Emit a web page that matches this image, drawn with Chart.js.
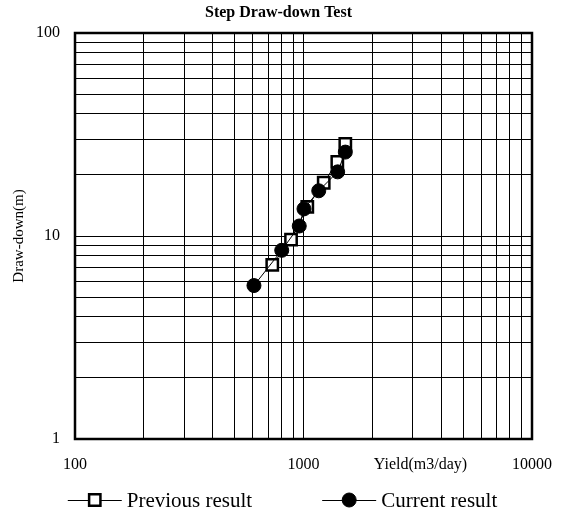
<!DOCTYPE html>
<html>
<head>
<meta charset="utf-8">
<title>Step Draw-down Test</title>
<script src="https://cdn.jsdelivr.net/npm/chart.js@4.4.1/dist/chart.umd.min.js"></script>
<style>
  html, body { margin: 0; padding: 0; background: #fff; }
  canvas { display: block; }
</style>
</head>
<body>
<canvas id="stepChart" width="565" height="517"></canvas>
<script>
// Yield (m3/day) against draw-down (m)
const previousYield = [730, 882, 1039, 1226, 1406, 1524];
const previousDrawdown = [7.2, 9.6, 13.9, 18.3, 23.2, 28.4];

const currentYield = [607, 803, 958, 1005, 1166, 1411, 1524];
const currentDrawdown = [5.7, 8.5, 11.2, 13.6, 16.7, 20.7, 25.9];

// grid lines and the labelled ticks
const xGridValues = [100, 200, 300, 400, 500, 600, 700, 800, 900,
  1000, 2000, 3000, 4000, 5000, 6000, 7000, 8000, 9000, 10000];
const yGridValues = [1, 2, 3, 4, 5, 6, 7, 8, 9,
  10, 20, 30, 40, 50, 60, 70, 80, 90, 100];
const xTickLabels = [100, 1000, 10000];
const yTickLabels = [1, 10, 100];

const serif = "'Liberation Serif', 'Times New Roman', serif";
Chart.defaults.font.family = serif;
Chart.defaults.color = '#000';

// title sits a little left of the canvas centre
const titlePlugin = {
  id: 'sheetTitle',
  afterDraw(chart) {
    const { ctx } = chart;
    ctx.save();
    ctx.font = 'bold 16px ' + serif;
    ctx.fillStyle = '#000';
    ctx.textAlign = 'center';
    ctx.textBaseline = 'middle';
    ctx.fillText('Step Draw-down Test', chart.width / 2 - 4, 13);
    ctx.restore();
  }
};

// thick black box round the plot area
const framePlugin = {
  id: 'frame',
  beforeDatasetsDraw(chart) {
    const { ctx, chartArea: a } = chart;
    ctx.save();
    ctx.lineWidth = 2.5;
    ctx.strokeStyle = '#000';
    ctx.strokeRect(a.left, a.top, a.right - a.left, a.bottom - a.top);
    ctx.restore();
  }
};

// x axis title sits in the tick label row, right of 1000
const yieldLabelPlugin = {
  id: 'yieldLabel',
  afterDraw(chart) {
    const { ctx } = chart;
    const x = chart.scales.x.getPixelForValue(3250);
    ctx.save();
    ctx.font = '16px ' + serif;
    ctx.fillStyle = '#000';
    ctx.textAlign = 'center';
    ctx.textBaseline = 'middle';
    ctx.fillText('Yield(m3/day)', x, chart.chartArea.bottom + 26);
    ctx.restore();
  }
};

// legend with a line through the marker, like the spreadsheet one
const lineLegendPlugin = {
  id: 'lineLegend',
  afterDraw(chart) {
    const { ctx } = chart;
    const lineLen = 54, textGap = 5, itemGap = 70;
    const y = chart.height - 17;
    ctx.save();
    ctx.font = '21px ' + serif;
    const items = chart.data.datasets.map(ds => ({ ds, w: ctx.measureText(ds.label).width }));
    const total = items.reduce((s, it) => s + lineLen + textGap + it.w, 0) + itemGap * (items.length - 1);
    let x = (chart.width - total) / 2;
    items.forEach(({ ds, w }) => {
      ctx.strokeStyle = '#000';
      ctx.lineWidth = 1;
      ctx.beginPath();
      ctx.moveTo(x, y + 0.5);
      ctx.lineTo(x + lineLen, y + 0.5);
      ctx.stroke();

      ctx.fillStyle = ds.pointBackgroundColor;
      ctx.strokeStyle = ds.pointBorderColor;
      ctx.lineWidth = ds.pointBorderWidth;
      Chart.helpers.drawPoint(ctx, {
        pointStyle: ds.pointStyle,
        radius: ds.pointRadius,
        rotation: 0,
        borderWidth: ds.pointBorderWidth
      }, x + lineLen / 2, y);

      ctx.fillStyle = '#000';
      ctx.textAlign = 'left';
      ctx.textBaseline = 'middle';
      ctx.fillText(ds.label, x + lineLen + textGap, y + 1.5);
      x += lineLen + textGap + w + itemGap;
    });
    ctx.restore();
  }
};

new Chart(document.getElementById('stepChart'), {
  type: 'scatter',
  data: {
    datasets: [
      {
        label: 'Previous result',
        data: previousYield.map((x, i) => ({ x, y: previousDrawdown[i] })),
        showLine: true,
        borderColor: '#000',
        borderWidth: 1,
        pointStyle: 'rect',
        pointRadius: 8,
        pointBorderWidth: 2.5,
        pointBackgroundColor: '#fff',
        pointBorderColor: '#000',
        order: 2
      },
      {
        label: 'Current result',
        data: currentYield.map((x, i) => ({ x, y: currentDrawdown[i] })),
        showLine: true,
        borderColor: '#000',
        borderWidth: 1,
        pointStyle: 'circle',
        pointRadius: 7,
        pointBorderWidth: 1,
        pointBackgroundColor: '#000',
        pointBorderColor: '#000',
        order: 1
      }
    ]
  },
  options: {
    responsive: false,
    animation: false,
    layout: { padding: { top: 33, right: 33, bottom: 0, left: 0 } },
    plugins: {
      legend: { display: false },
      tooltip: { enabled: false },
      title: { display: false }
    },
    scales: {
      x: {
        type: 'logarithmic',
        min: 100,
        max: 10000,
        afterBuildTicks: s => { s.ticks = xGridValues.map(v => ({ value: v })); },
        afterFit: s => {
          s.height = 78;
          // the right margin is set by layout padding, not by the last label
          s.paddingRight = 0;
        },
        grid: { color: '#000', lineWidth: 1, drawTicks: false },
        border: { display: false },
        ticks: {
          padding: 16,
          autoSkip: false,
          maxRotation: 0,
          font: { size: 16 },
          color: '#000',
          callback: v => xTickLabels.includes(v) ? String(v) : ''
        }
      },
      y: {
        type: 'logarithmic',
        min: 1,
        max: 100,
        afterBuildTicks: s => { s.ticks = yGridValues.map(v => ({ value: v })); },
        afterFit: s => { s.width = 75; },
        grid: { color: '#000', lineWidth: 1, drawTicks: false },
        border: { display: false },
        title: {
          display: true,
          text: 'Draw-down(m)',
          color: '#000',
          font: { size: 15 },
          padding: { top: 10, bottom: 0 }
        },
        ticks: {
          padding: 15,
          autoSkip: false,
          font: { size: 16 },
          color: '#000',
          callback: v => yTickLabels.includes(v) ? String(v) : ''
        }
      }
    }
  },
  plugins: [titlePlugin, framePlugin, yieldLabelPlugin, lineLegendPlugin]
});
</script>
</body>
</html>
